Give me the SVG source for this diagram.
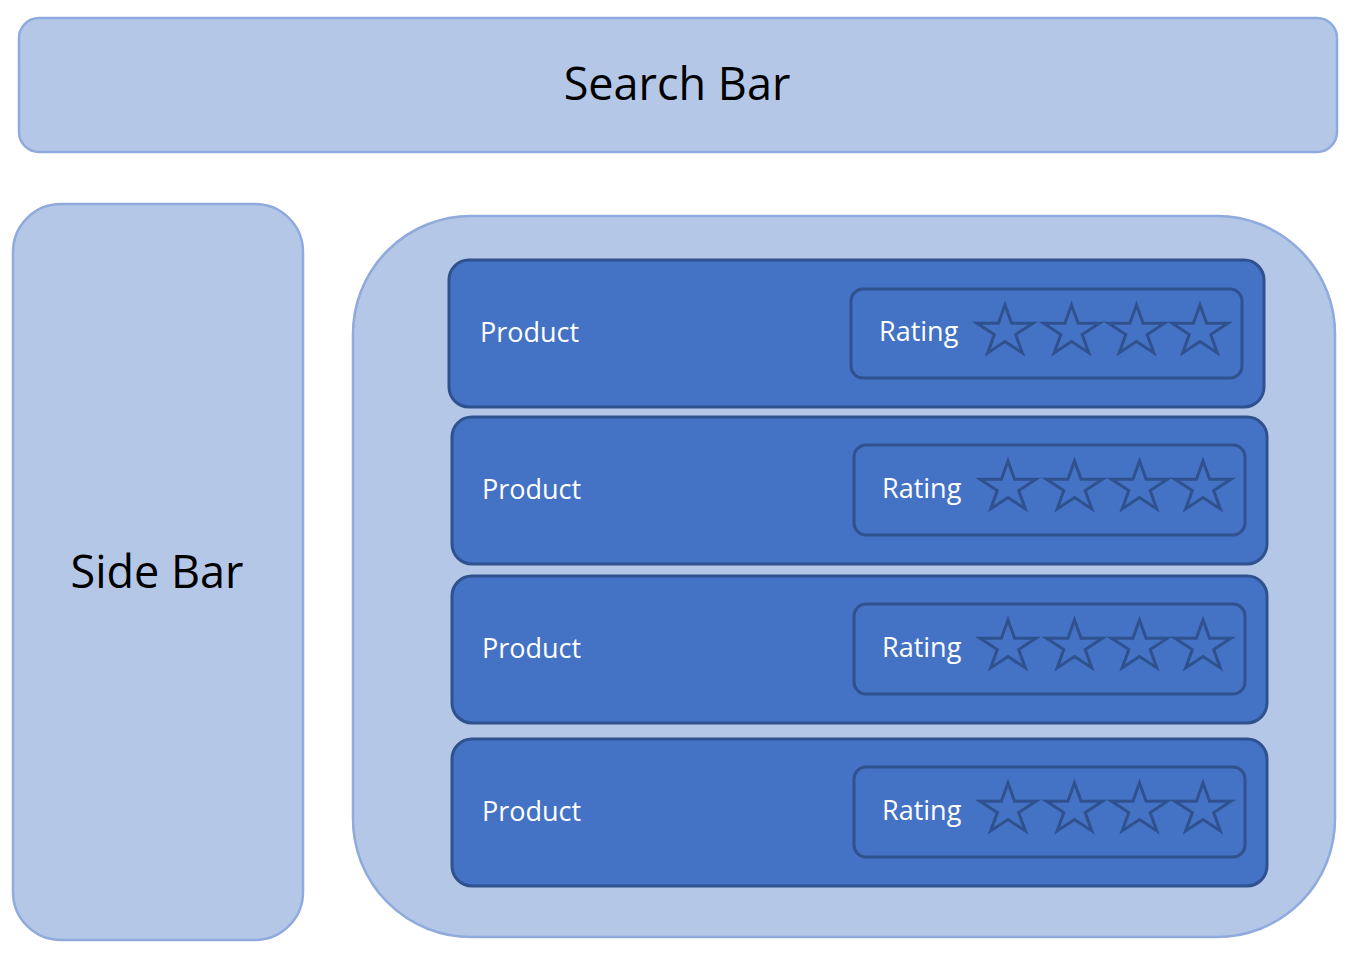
<svg xmlns="http://www.w3.org/2000/svg" width="1367" height="953" viewBox="0 0 1367 953">
<style>
.light{fill:#B4C7E7;stroke:#8FAADC;stroke-width:2.5}
.dark{fill:#4472C4;stroke:#2F528F;stroke-width:3}
.star{fill:none;stroke:#2F528F;stroke-width:3;stroke-linejoin:miter}
.big{font-family:"Open Sans","Noto Sans","Liberation Sans",sans-serif;font-size:45px;fill:#000}
.lbl{font-family:"Open Sans","Noto Sans","Liberation Sans",sans-serif;font-size:27px;fill:#fff}
</style>
<defs>
<polygon id="star" class="star" points="0,-26.5 6.6,-8.2 28,-8.2 10.7,3.1 17.3,21.4 0,10.1 -17.3,21.4 -10.7,3.1 -28,-8.2 -6.6,-8.2"/>
</defs>
<rect width="1367" height="953" fill="#fff"/>
<g id="search-bar">
<rect class="light" x="19" y="18" width="1318" height="134" rx="20"/>
<text class="big" x="677" y="100" text-anchor="middle">Search Bar</text>
</g>
<g id="side-bar">
<rect class="light" x="13" y="204" width="290" height="736" rx="48"/>
<text class="big" x="157" y="588" text-anchor="middle">Side Bar</text>
</g>
<g id="main-panel">
<rect class="light" x="353" y="216" width="982" height="721" rx="118"/>
</g>
<g id="product-1">
<rect class="dark" x="449" y="260" width="815" height="147" rx="20"/>
<text class="lbl" x="480" y="342">Product</text>
<rect class="dark" x="851" y="289" width="391" height="89" rx="12"/>
<text class="lbl" x="879" y="341">Rating</text>
<use href="#star" x="1005" y="331.5"/><use href="#star" x="1071.5" y="331.5"/><use href="#star" x="1136.5" y="331.5"/><use href="#star" x="1200" y="331.5"/>
</g>
<g id="product-2">
<rect class="dark" x="452" y="417" width="815" height="147" rx="20"/>
<text class="lbl" x="482" y="499">Product</text>
<rect class="dark" x="854" y="445" width="391" height="90" rx="12"/>
<text class="lbl" x="882" y="498">Rating</text>
<use href="#star" x="1008" y="487.5"/><use href="#star" x="1074.5" y="487.5"/><use href="#star" x="1139.5" y="487.5"/><use href="#star" x="1203" y="487.5"/>
</g>
<g id="product-3">
<rect class="dark" x="452" y="576" width="815" height="147" rx="20"/>
<text class="lbl" x="482" y="658">Product</text>
<rect class="dark" x="854" y="604" width="391" height="90" rx="12"/>
<text class="lbl" x="882" y="657">Rating</text>
<use href="#star" x="1008" y="646.5"/><use href="#star" x="1074.5" y="646.5"/><use href="#star" x="1139.5" y="646.5"/><use href="#star" x="1203" y="646.5"/>
</g>
<g id="product-4">
<rect class="dark" x="452" y="739" width="815" height="147" rx="20"/>
<text class="lbl" x="482" y="821">Product</text>
<rect class="dark" x="854" y="767" width="391" height="90" rx="12"/>
<text class="lbl" x="882" y="820">Rating</text>
<use href="#star" x="1008" y="809.5"/><use href="#star" x="1074.5" y="809.5"/><use href="#star" x="1139.5" y="809.5"/><use href="#star" x="1203" y="809.5"/>
</g>
<g id="connectors"></g>
</svg>
